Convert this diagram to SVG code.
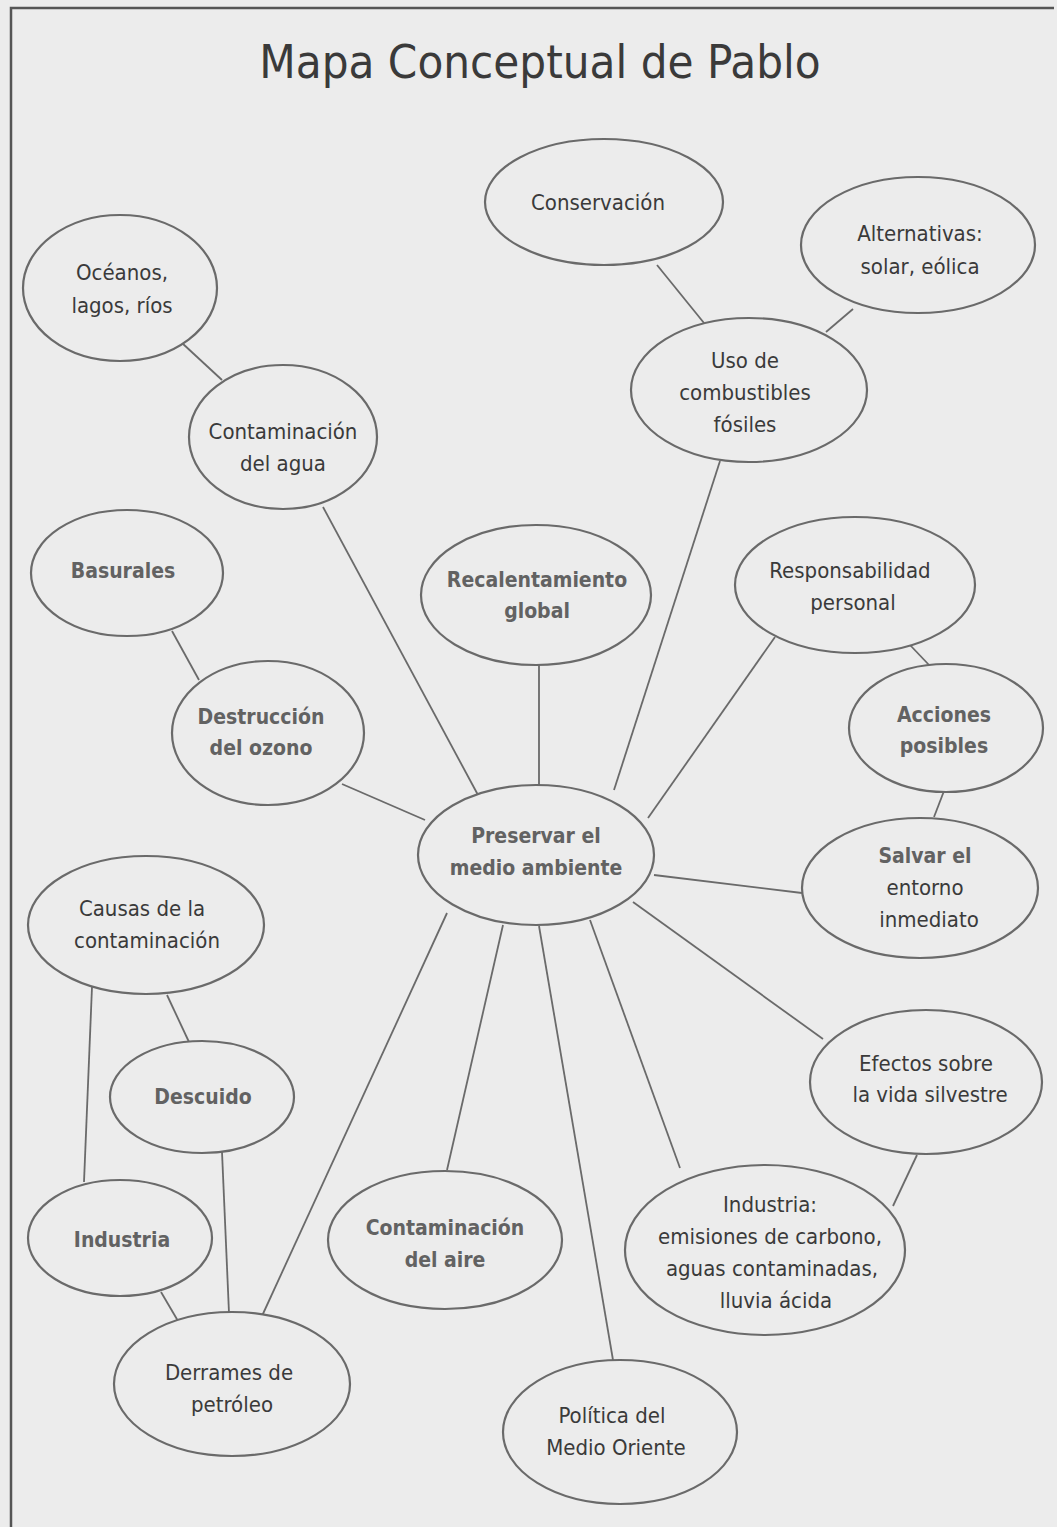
<svg xmlns="http://www.w3.org/2000/svg" width="1057" height="1527" viewBox="0 0 1057 1527">
<style>
.bg{fill:#ececec}
.frame{stroke:#555;stroke-width:2.5;fill:none}
.node ellipse{fill:#ececec;stroke:#6a6a6a;stroke-width:2.2}
.node text{font-family:"DejaVu Sans Condensed","DejaVu Sans","Liberation Sans Narrow",sans-serif;font-size:22px;fill:#3a3a3a;text-anchor:middle;font-stretch:condensed}
.node text.b{font-weight:bold;fill:#626262;font-size:21px}
#edges line{stroke:#6a6a6a;stroke-width:1.8}
.title{font-family:"DejaVu Sans Condensed","DejaVu Sans",sans-serif;font-size:47px;fill:#3a3a3a;text-anchor:middle;font-stretch:condensed}
</style>
<rect class="bg" x="0" y="0" width="1057" height="1527"/>
<path class="frame" d="M1054 8 H11 V1527"/>
<text class="title" x="540" y="78">Mapa Conceptual de Pablo</text>
<g id="edges">
<line x1="657" y1="265" x2="704" y2="323"/>
<line x1="853" y1="309" x2="826" y2="332"/>
<line x1="182" y1="343" x2="222" y2="380"/>
<line x1="323" y1="507" x2="478" y2="795"/>
<line x1="539" y1="662" x2="539" y2="785"/>
<line x1="720" y1="461" x2="614" y2="790"/>
<line x1="775" y1="637" x2="648" y2="818"/>
<line x1="910" y1="645" x2="930" y2="666"/>
<line x1="944" y1="791" x2="934" y2="817"/>
<line x1="172" y1="631" x2="199" y2="680"/>
<line x1="342" y1="784" x2="425" y2="820"/>
<line x1="654" y1="875" x2="802" y2="893"/>
<line x1="633" y1="902" x2="823" y2="1039"/>
<line x1="92" y1="987" x2="84" y2="1182"/>
<line x1="167" y1="995" x2="189" y2="1042"/>
<line x1="222" y1="1152" x2="229" y2="1313"/>
<line x1="161" y1="1292" x2="178" y2="1321"/>
<line x1="447" y1="913" x2="262" y2="1316"/>
<line x1="503" y1="925" x2="447" y2="1170"/>
<line x1="539" y1="926" x2="613" y2="1360"/>
<line x1="590" y1="920" x2="680" y2="1168"/>
<line x1="917" y1="1155" x2="893" y2="1206"/>
</g>
<g id="n-conservacion" class="node"><ellipse cx="604" cy="202" rx="119" ry="63"/><text x="598" y="210">Conservación</text></g>
<g id="n-alternativas" class="node"><ellipse cx="918" cy="245" rx="117" ry="68"/><text x="920" y="241">Alternativas:</text><text x="920" y="274">solar, eólica</text></g>
<g id="n-oceanos" class="node"><ellipse cx="120" cy="288" rx="97" ry="73"/><text x="122" y="280">Océanos,</text><text x="122" y="313">lagos, ríos</text></g>
<g id="n-uso" class="node"><ellipse cx="749" cy="390" rx="118" ry="72"/><text x="745" y="368">Uso de</text><text x="745" y="400">combustibles</text><text x="745" y="432">fósiles</text></g>
<g id="n-agua" class="node"><ellipse cx="283" cy="437" rx="94" ry="72"/><text x="283" y="439">Contaminación</text><text x="283" y="471">del agua</text></g>
<g id="n-basurales" class="node"><ellipse cx="127" cy="573" rx="96" ry="63"/><text class="b" x="123" y="578">Basurales</text></g>
<g id="n-recalentamiento" class="node"><ellipse cx="536" cy="595" rx="115" ry="70"/><text class="b" x="537" y="587">Recalentamiento</text><text class="b" x="537" y="618">global</text></g>
<g id="n-responsabilidad" class="node"><ellipse cx="855" cy="585" rx="120" ry="68"/><text x="850" y="578">Responsabilidad</text><text x="853" y="610">personal</text></g>
<g id="n-destruccion" class="node"><ellipse cx="268" cy="733" rx="96" ry="72"/><text class="b" x="261" y="724">Destrucción</text><text class="b" x="261" y="755">del ozono</text></g>
<g id="n-acciones" class="node"><ellipse cx="946" cy="728" rx="97" ry="64"/><text class="b" x="944" y="722">Acciones</text><text class="b" x="944" y="753">posibles</text></g>
<g id="n-preservar" class="node"><ellipse cx="536" cy="855" rx="118" ry="70"/><text class="b" x="536" y="843">Preservar el</text><text class="b" x="536" y="875">medio ambiente</text></g>
<g id="n-salvar" class="node"><ellipse cx="920" cy="888" rx="118" ry="70"/><text class="b" x="925" y="863">Salvar el</text><text x="925" y="895">entorno</text><text x="929" y="927">inmediato</text></g>
<g id="n-causas" class="node"><ellipse cx="146" cy="925" rx="118" ry="69"/><text x="142" y="916">Causas de la</text><text x="147" y="948">contaminación</text></g>
<g id="n-efectos" class="node"><ellipse cx="926" cy="1082" rx="116" ry="72"/><text x="926" y="1071">Efectos sobre</text><text x="930" y="1102">la vida silvestre</text></g>
<g id="n-descuido" class="node"><ellipse cx="202" cy="1097" rx="92" ry="56"/><text class="b" x="203" y="1104">Descuido</text></g>
<g id="n-industria" class="node"><ellipse cx="120" cy="1238" rx="92" ry="58"/><text class="b" x="122" y="1247">Industria</text></g>
<g id="n-aire" class="node"><ellipse cx="445" cy="1240" rx="117" ry="69"/><text class="b" x="445" y="1235">Contaminación</text><text class="b" x="445" y="1267">del aire</text></g>
<g id="n-industria2" class="node"><ellipse cx="765" cy="1250" rx="140" ry="85"/><text x="770" y="1212">Industria:</text><text x="770" y="1244">emisiones de carbono,</text><text x="772" y="1276">aguas contaminadas,</text><text x="776" y="1308">lluvia ácida</text></g>
<g id="n-derrames" class="node"><ellipse cx="232" cy="1384" rx="118" ry="72"/><text x="229" y="1380">Derrames de</text><text x="232" y="1412">petróleo</text></g>
<g id="n-politica" class="node"><ellipse cx="620" cy="1432" rx="117" ry="72"/><text x="612" y="1423">Política del</text><text x="616" y="1455">Medio Oriente</text></g>
</svg>
